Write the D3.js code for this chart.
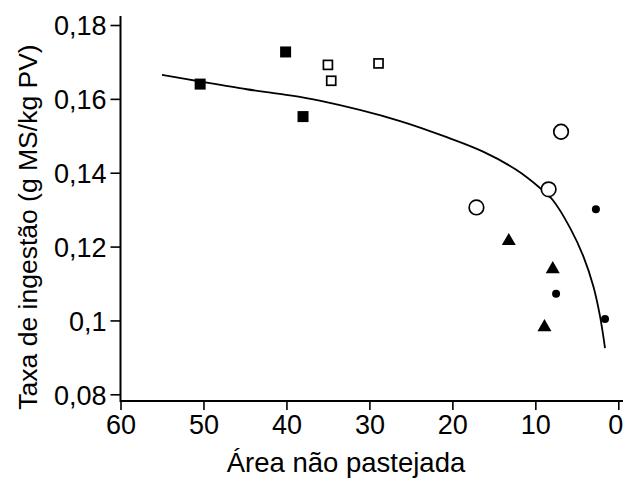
<!DOCTYPE html>
<html>
<head>
<meta charset="utf-8">
<script src="https://cdn.jsdelivr.net/npm/d3@7"></script>
<style>
body { margin:0; background:#fff; }
text { font-family: "Liberation Sans", Arial, sans-serif; fill:#000; }
</style>
</head>
<body>
<div id="chart"></div>
<script>
// valeurs
var filledSquares = [[50.4,0.1640],[40.1,0.1727],[38.0,0.1552]];
var openSquares   = [[35.0,0.1692],[34.6,0.1649],[28.9,0.1696]];
var openCircles   = [[6.9,0.1511],[8.4,0.1355],[17.1,0.1306]];
var triangles     = [[13.2,0.1215],[7.9,0.1139],[8.9,0.0982]];
var dots          = [[2.7,0.1301],[7.5,0.1072],[1.6,0.1004]];

// courbe ajustee
var fitCurve = [[55.0,0.1665],[50.4,0.1647],[44.8,0.1626],[40.4,0.1612],[36.0,0.1595],
	[26.3,0.1540],[20.3,0.1493],[16.3,0.1457],[12.3,0.1408],[9.4,0.1358],[7.9,0.1326],
	[5.8,0.1250],[4.2,0.1173],[3.0,0.1092],[2.2,0.1011],[1.6,0.0925]];

var xTicks = [60,50,40,30,20,10,0];
var yTicks = [0.08,0.10,0.12,0.14,0.16,0.18];
var yTickLabels = ["0,08","0,1","0,12","0,14","0,16","0,18"];

var xTitle = "Área não pastejada";
var yTitle = "Taxa de ingestão (g MS/kg PV)";

var width = 623, height = 478;

var x = d3.scaleLinear().domain([60,0]).range([120.5,618.3]);
var y = d3.scaleLinear().domain([0.08,0.18]).range([394.3,25]);
var axisY = 401;

var svg = d3.select("#chart").append("svg")
	.attr("width",width).attr("height",height);

// axe y
var gy = svg.append("g")
	.attr("transform","translate("+x(60)+",0)")
	.call(d3.axisLeft(y).tickValues(yTicks).tickSize(10).tickSizeOuter(0)
		.tickFormat(function(d,i){ return yTickLabels[i]; }));
gy.select(".domain").remove();
gy.selectAll(".tick line").attr("stroke","#000").attr("stroke-width",1.6);
gy.selectAll(".tick text").attr("x",-14).attr("dy","0.36em")
	.style("font-size","27px").attr("fill","#000");

// axe x
var gx = svg.append("g")
	.attr("transform","translate(0,"+axisY+")")
	.call(d3.axisBottom(x).tickValues(xTicks).tickSize(9).tickSizeOuter(0));
gx.select(".domain").remove();
gx.selectAll(".tick line").attr("stroke","#000").attr("stroke-width",1.6);
gx.selectAll(".tick text").attr("y",14).attr("dy","0.71em")
	.style("font-size","27px").attr("fill","#000")
	.attr("dx",function(d){ return d==0 ? -3 : 0; });

// lignes des axes
svg.append("line")
	.attr("x1",x(60)).attr("x2",x(60))
	.attr("y1",y(0.18)-9).attr("y2",axisY+1)
	.attr("stroke","#000").attr("stroke-width",2);
svg.append("line")
	.attr("x1",x(60)).attr("x2",width)
	.attr("y1",axisY).attr("y2",axisY)
	.attr("stroke","#000").attr("stroke-width",2);

// titres
svg.append("text")
	.attr("x",346).attr("y",472)
	.attr("text-anchor","middle")
	.style("font-size","27.5px")
	.text(xTitle);

svg.append("text")
	.attr("transform","translate(37,227) rotate(-90)")
	.attr("text-anchor","middle")
	.style("font-size","26.5px")
	.text(yTitle);

// courbe
var line = d3.line()
	.x(function(d){ return x(d[0]); })
	.y(function(d){ return y(d[1]); })
	.curve(d3.curveCatmullRom);

svg.append("path")
	.attr("d",line(fitCurve))
	.attr("fill","none")
	.attr("stroke","#000")
	.attr("stroke-width",1.8);

// points
svg.selectAll(".fsq").data(filledSquares).enter().append("rect")
	.attr("x",function(d){ return x(d[0])-5.5; })
	.attr("y",function(d){ return y(d[1])-5.5; })
	.attr("width",11).attr("height",11)
	.attr("fill","#000");

svg.selectAll(".osq").data(openSquares).enter().append("rect")
	.attr("x",function(d){ return x(d[0])-4.5; })
	.attr("y",function(d){ return y(d[1])-4.5; })
	.attr("width",9).attr("height",9)
	.attr("fill","#fff").attr("stroke","#000").attr("stroke-width",1.7);

svg.selectAll(".oc").data(openCircles).enter().append("circle")
	.attr("cx",function(d){ return x(d[0]); })
	.attr("cy",function(d){ return y(d[1]); })
	.attr("r",7.3)
	.attr("fill","#fff").attr("stroke","#000").attr("stroke-width",1.7);

svg.selectAll(".tri").data(triangles).enter().append("path")
	.attr("d",d3.symbol().type(d3.symbolTriangle).size(85))
	.attr("transform",function(d){ return "translate("+x(d[0])+","+y(d[1])+")"; })
	.attr("fill","#000");

svg.selectAll(".dot").data(dots).enter().append("circle")
	.attr("cx",function(d){ return x(d[0]); })
	.attr("cy",function(d){ return y(d[1]); })
	.attr("r",4)
	.attr("fill","#000");
</script>
</body>
</html>
